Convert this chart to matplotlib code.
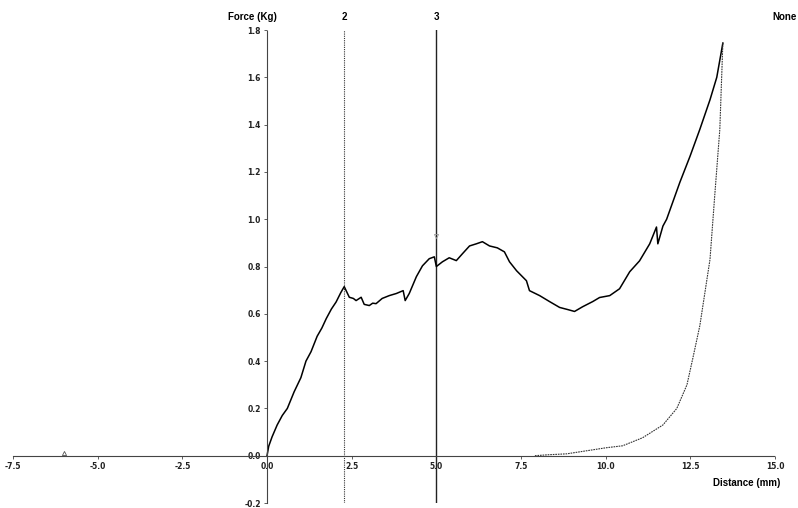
import matplotlib
matplotlib.use("Agg")
import matplotlib.pyplot as plt

# loading curve (solid)
load_x = [0.0, 0.05, 0.15, 0.3, 0.45, 0.6, 0.8, 1.0, 1.15, 1.3, 1.48, 1.62, 1.75, 1.9,
          2.04, 2.18, 2.28, 2.43, 2.55, 2.63, 2.78, 2.87, 3.02, 3.12, 3.22, 3.4, 3.61,
          3.82, 4.02, 4.08, 4.2, 4.41, 4.59, 4.79, 4.94, 5.0, 5.18, 5.38, 5.59, 5.77,
          5.98, 6.18, 6.36, 6.57, 6.8, 7.01, 7.16, 7.37, 7.66, 7.75, 8.05, 8.34, 8.64,
          8.88, 9.08, 9.32, 9.62, 9.82, 10.12, 10.41, 10.71, 11.0, 11.3, 11.5, 11.54,
          11.69, 11.8, 12.0, 12.19, 12.49, 12.78, 13.08, 13.28, 13.46]
load_y = [0.0, 0.04, 0.08, 0.13, 0.17, 0.2, 0.27, 0.33, 0.4, 0.44, 0.505, 0.54, 0.58, 0.62,
          0.65, 0.69, 0.715, 0.67, 0.665, 0.656, 0.67, 0.64, 0.635, 0.645, 0.643, 0.665, 0.677,
          0.686, 0.698, 0.656, 0.686, 0.757, 0.803, 0.833, 0.841, 0.80, 0.82, 0.837, 0.825, 0.854,
          0.887, 0.896, 0.905, 0.887, 0.879, 0.862, 0.82, 0.782, 0.74, 0.698, 0.677, 0.652, 0.627,
          0.618, 0.61, 0.63, 0.652, 0.669, 0.677, 0.706, 0.778, 0.824, 0.896, 0.967, 0.896,
          0.971, 1.0, 1.08, 1.156, 1.266, 1.38, 1.505, 1.60, 1.745]

# return curve (thin dotted)
unload_x = [13.46, 13.37, 13.22, 13.08, 12.93, 12.78, 12.57, 12.4, 12.1, 11.69, 11.09,
            10.5, 10.03, 9.44, 8.85, 8.3, 7.9]
unload_y = [1.745, 1.38, 1.10, 0.83, 0.69, 0.55, 0.41, 0.30, 0.20, 0.13, 0.076,
            0.042, 0.034, 0.021, 0.008, 0.004, 0.0]

x_ticks = [-7.5, -5.0, -2.5, 0.0, 2.5, 5.0, 7.5, 10.0, 12.5, 15.0]
y_ticks = [-0.2, 0.0, 0.2, 0.4, 0.6, 0.8, 1.0, 1.2, 1.4, 1.6, 1.8]

marker_2 = 2.28
marker_3 = 5.0

fig = plt.figure(figsize=(7.98, 5.08), dpi=100)
ax = fig.add_axes([0.0163, 0.0098, 0.9549, 0.9311])
ax.set_xlim(-7.5, 15.0)
ax.set_ylim(-0.2, 1.8)

for s in ["top", "right"]:
    ax.spines[s].set_visible(False)
ax.spines["left"].set_position(("data", 0))
ax.spines["bottom"].set_position(("data", 0))
for s in ["left", "bottom"]:
    ax.spines[s].set_linestyle((0, (1, 1)))
    ax.spines[s].set_linewidth(0.8)
    ax.spines[s].set_color("#444444")

ax.set_xticks(x_ticks)
ax.set_yticks(y_ticks)
ax.set_xticklabels(["%.1f" % v for v in x_ticks])
ax.set_yticklabels(["%.1f" % v for v in y_ticks])
ax.tick_params(axis="both", labelsize=5.5, length=2.5, width=0.6, color="#444444",
               labelcolor="#222222", direction="out", pad=2)
for lab in ax.get_xticklabels():
    lab.set_fontweight("bold")
for lab in ax.get_yticklabels():
    lab.set_fontweight("bold")

ax.axvline(marker_2, color="#333333", lw=0.8, ls=(0, (1, 1)), ymin=0, ymax=1)
ax.axvline(marker_3, color="#222222", lw=1.0, ymin=0, ymax=1)

ax.plot(load_x, load_y, color="black", lw=1.1)
ax.plot(unload_x, unload_y, color="#333333", lw=0.8, ls=(0, (1.5, 0.8)))

ax.plot([-6.0], [0.01], marker="^", ms=3, color="#555555", mfc="none", mew=0.6)
ax.plot([5.0], [0.93], marker="v", ms=3, color="#999999", mfc="none", mew=0.6)

txt = dict(fontsize=7, fontweight="bold", family="Liberation Sans", va="center")
top_y = 1 - 17 / 508
fig.text(277 / 798, top_y, "Force (Kg)", ha="right", **txt)
for xv, name in [(marker_2, "2"), (marker_3, "3")]:
    xf = fig.transFigure.inverted().transform(ax.transData.transform((xv, 0)))[0]
    fig.text(xf, top_y, name, ha="center", **txt)
fig.text(797 / 798, top_y, "None", ha="right", **txt)
fig.text(780 / 798, 1 - 483 / 508, "Distance (mm)", ha="right", **txt)

fig.savefig("out.png", dpi=100)
